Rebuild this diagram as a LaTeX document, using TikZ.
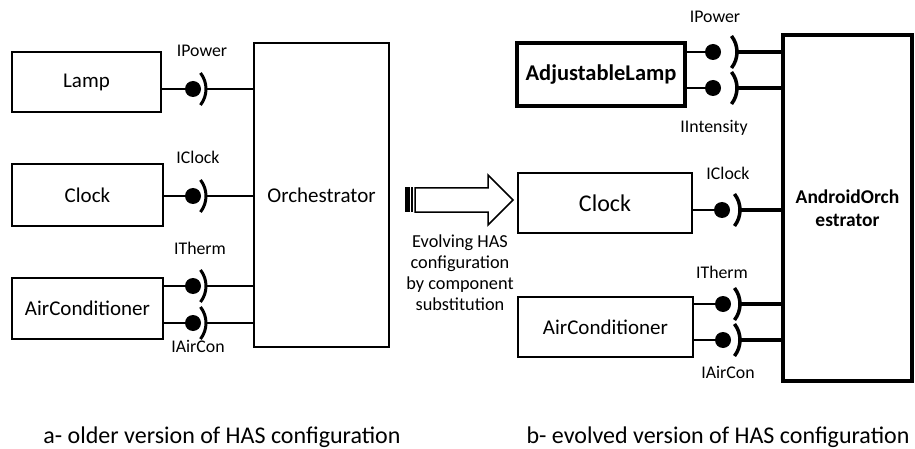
\documentclass[tikz,border=0pt]{standalone}
\usepackage{fontspec}
\setmainfont{Carlito}

\begin{document}
\begin{tikzpicture}[x = 1pt, y = -1pt, line join = miter,
    comp/.style = {draw, line width = 2pt, inner sep = 0pt, font = \fontsize{21}{25}\selectfont},
    ball/.style = {circle, fill, inner sep = 0pt, minimum size = 16pt},
    lbl/.style = {inner sep = 0pt, font = \fontsize{17.8}{21}\selectfont},
    wire/.style = {line width = 2pt},
    fat/.style = {line width = 3.5pt},
    caption/.style = {inner sep = 0pt, font = \fontsize{24}{28}\selectfont}]
    \useasboundingbox (0, 0) rectangle (915, 449);

    % a- older configuration
    \node[comp, minimum width = 149, minimum height = 60] (lamp) at (86.5, 82) {Lamp};
    \node[comp, minimum width = 151, minimum height = 61] (clk) at (87.5, 195) {Clock};
    \node[comp, minimum width = 151, minimum height = 61] (air) at (87.5, 308.5) {AirConditioner};
    \node[comp, minimum width = 135, minimum height = 304] (orch) at (321.5, 195) {Orchestrator};

    \node[ball] (b1) at (193, 89)  {};
    \node[ball] (b2) at (193, 196) {};
    \node[ball] (b3) at (193, 286) {};
    \node[ball] (b4) at (193, 323) {};
    \coordinate (s1) at (206, 89);
    \coordinate (s2) at (206, 196);
    \coordinate (s3) at (206, 286);
    \coordinate (s4) at (206, 323);

    \node[lbl] (pow) at (202, 51)  {IPower};
    \node[lbl] (clki) at (198, 157) {IClock};
    \node[lbl] (thr) at (200, 248) {ITherm};
    \node[lbl] (aci) at (198, 346) {IAirCon};

    \draw[wire] (lamp.east |- b1) -- (b1);
    \draw[wire] (clk.east |- b2) -- (b2);
    \draw[wire] (air.east |- b3) -- (b3);
    \draw[wire] (air.east |- b4) -- (b4);
    \foreach \s in {s1, s2, s3, s4} {
        \draw[wire] (\s) -- (orch.west |- \s);
        \draw[line width = 3pt] ([xshift = -26pt]\s) ++(-38:26) arc [start angle = -38, end angle = 38, radius = 26];
    }

    % evolution arrow
    \fill (405, 187) rectangle (409.5, 212);
    \fill (411, 187) rectangle (412.7, 212);
    \draw[line width = 1.5pt] (415, 188) -- (488, 188) -- (488, 175) -- (513, 200) -- (488, 225) -- (488, 212) -- (415, 212) -- cycle;
    \node[align = center, font = \fontsize{18.3}{21}\selectfont] (evo) at (460, 273) {Evolving HAS\\configuration\\by component\\substitution};

    % b- evolved configuration
    \node[comp, line width = 4pt, minimum width = 168, minimum height = 63, font = \fontsize{22.5}{26}\selectfont\bfseries] (alamp) at (601, 74.5) {AdjustableLamp};
    \node[comp, minimum width = 174, minimum height = 60, font = \fontsize{24}{28}\selectfont] (clk2) at (605, 203) {Clock};
    \node[comp, minimum width = 175, minimum height = 60, font = \fontsize{21}{25}\selectfont] (air2) at (605.5, 327) {AirConditioner};
    \node[comp, line width = 4pt, minimum width = 129, minimum height = 346, align = center, font = \fontsize{19.5}{23}\selectfont\bfseries] (andr) at (847.5, 208) {AndroidOrch\\estrator};

    \node[ball] (c1) at (713, 52)  {};
    \node[ball] (c2) at (713, 88)  {};
    \node[ball] (c3) at (722, 210) {};
    \node[ball] (c4) at (723, 304) {};
    \node[ball] (c5) at (723, 340) {};
    \coordinate (t1) at (737, 52);
    \coordinate (t2) at (737, 88);
    \coordinate (t3) at (740, 210);
    \coordinate (t4) at (740, 304);
    \coordinate (t5) at (740, 340);

    \node[lbl] (pow2) at (715, 17)  {IPower};
    \node[lbl] (ints) at (714, 128) {IIntensity};
    \node[lbl] (clki2) at (728, 173) {IClock};
    \node[lbl] (thr2) at (722, 272) {ITherm};
    \node[lbl] (aci2) at (728, 372) {IAirCon};

    \draw[line width = 2.5pt] (alamp.east |- c1) -- (c1);
    \draw[line width = 2.5pt] (alamp.east |- c2) -- (c2);
    \draw[wire] (clk2.east |- c3) -- (c3);
    \draw[wire] (air2.east |- c4) -- (c4);
    \draw[wire] (air2.east |- c5) -- (c5);
    \foreach \s in {t1, t2, t3, t4, t5} {
        \draw[fat] (\s) -- (andr.west |- \s);
        \draw[fat] ([xshift = -26pt]\s) ++(-38:26) arc [start angle = -38, end angle = 38, radius = 26];
    }

    % captions
    \node[caption, anchor = base] (capa) at (222, 443) {a- older version of HAS configuration};
    \node[caption, anchor = base] (capb) at (718, 443) {b- evolved version of HAS configuration};
\end{tikzpicture}
\end{document}
